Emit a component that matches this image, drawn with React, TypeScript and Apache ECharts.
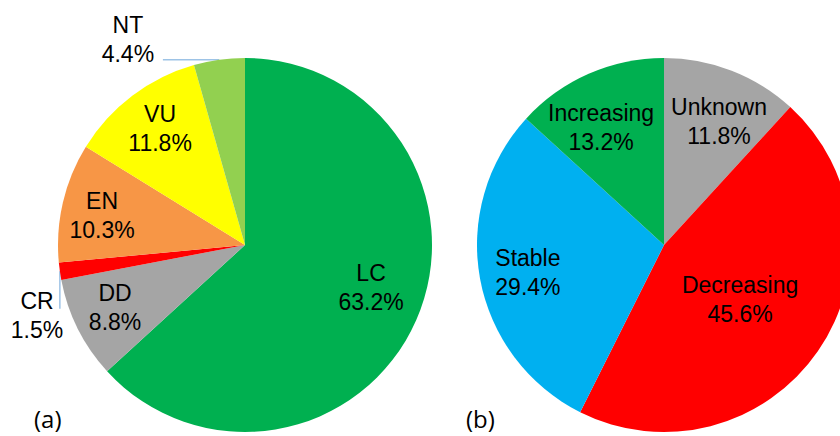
import React, { useEffect, useRef } from "react";
import * as echarts from "echarts";

// ---- data ----
const redListCategories = ["LC", "DD", "CR", "EN", "VU", "NT"];
const redListShares = [63.2, 8.8, 1.5, 10.3, 11.8, 4.4];
const trendCategories = ["Unknown", "Decreasing", "Stable", "Increasing"];
const trendShares = [11.8, 45.6, 29.4, 13.2];
const panelLabels = ["(a)", "(b)"];

// ---- styling ----
const redListColors = ["#00B050", "#A5A5A5", "#FF0000", "#F79646", "#FFFF00", "#92D050"];
const trendColors = ["#A5A5A5", "#FF0000", "#00B0F0", "#00B050"];
// label placement per slice: [radius fraction, angular offset from slice middle in degrees]
const redListLabelSpots: number[][] = [[0.712, -5], [0.77, 1.1], [1.175, -10.7], [0.78, -1.6], [0.773, 1.1], [1.267, -21.7]];
const trendLabelSpots: number[][] = [[0.725, 2.7], [0.502, 1.3], [0.742, -0.8], [0.715, -4.3]];
const RADIUS = 187;
const CENTERS: number[][] = [[245, 245], [664, 245]];
const LABEL_FONT = "'Liberation Sans', Arial, sans-serif";

function midAngles(values: number[]): number[] {
  const total = values.reduce((a, b) => a + b, 0);
  let acc = 0;
  return values.map((v) => {
    const start = acc;
    acc += v;
    return ((start + v / 2) / total) * 360;
  });
}

function polar(center: number[], r: number, deg: number): number[] {
  const a = (deg * Math.PI) / 180;
  return [center[0] + r * Math.sin(a), center[1] - r * Math.cos(a)];
}

function makePie(names: string[], values: number[], colors: string[], spots: number[][], center: number[]) {
  const mids = midAngles(values);
  return {
    type: "pie",
    center,
    radius: RADIUS,
    startAngle: 90,
    clockwise: true,
    avoidLabelOverlap: false,
    silent: true,
    emphasis: { disabled: true },
    itemStyle: { borderWidth: 0 },
    label: {
      show: true,
      position: "inside",
      color: "#000",
      fontSize: 23,
      lineHeight: 29,
      fontFamily: LABEL_FONT,
      formatter: (p: any) => `${p.name}\n${Number(p.value).toFixed(1)}%`,
    },
    labelLine: { show: false },
    labelLayout: (p: any) => {
      const i = p.dataIndex;
      const [f, d] = spots[i];
      const [x, y] = polar(center, f * RADIUS, mids[i] + d);
      return { x, y, align: "center", verticalAlign: "middle" };
    },
    data: names.map((n, i) => ({ name: n, value: values[i], itemStyle: { color: colors[i] } })),
  };
}

function leaderLines(): any[] {
  const mids = midAngles(redListShares);
  const c = CENTERS[0];
  const out: any[] = [];
  const lineStyle = { stroke: "#9DC3E6", lineWidth: 1.5 };
  // NT: horizontal leader to the label
  const nt = redListCategories.indexOf("NT");
  const ntArc = polar(c, RADIUS, mids[nt]);
  const ntLabel = polar(c, redListLabelSpots[nt][0] * RADIUS, mids[nt] + redListLabelSpots[nt][1]);
  out.push({ type: "line", silent: true, shape: { x1: ntArc[0], y1: ntArc[1], x2: ntLabel[0] + 35, y2: ntArc[1] }, style: lineStyle });
  // CR: vertical leader to the label
  const cr = redListCategories.indexOf("CR");
  const crArc = polar(c, RADIUS, mids[cr]);
  const crLabel = polar(c, redListLabelSpots[cr][0] * RADIUS, mids[cr] + redListLabelSpots[cr][1]);
  out.push({ type: "line", silent: true, shape: { x1: crArc[0], y1: crArc[1], x2: crArc[0], y2: crLabel[1] - 7 }, style: lineStyle });
  return out;
}

export default function App() {
  const ref = useRef<HTMLDivElement>(null);
  useEffect(() => {
    if (!ref.current) return;
    const chart = echarts.init(ref.current, null, { renderer: "svg" });
    chart.setOption({
      animation: false,
      backgroundColor: "#fff",
      series: [
        makePie(redListCategories, redListShares, redListColors, redListLabelSpots, CENTERS[0]),
        makePie(trendCategories, trendShares, trendColors, trendLabelSpots, CENTERS[1]),
      ],
      graphic: [
        ...leaderLines(),
        {
          type: "text",
          left: 34,
          top: 406,
          style: { text: panelLabels[0], fontSize: 24, fontFamily: "'Open Sans', sans-serif", fill: "#000" },
        },
        {
          type: "text",
          left: 466,
          top: 406,
          style: { text: panelLabels[1], fontSize: 24, fontFamily: "'Open Sans', sans-serif", fill: "#000" },
        },
      ],
    });
    return () => chart.dispose();
  }, []);
  return (
    <div
      ref={ref}
      style={{ position: "absolute", left: 0, top: 0, width: 840, height: 436 }}
    />
  );
}
